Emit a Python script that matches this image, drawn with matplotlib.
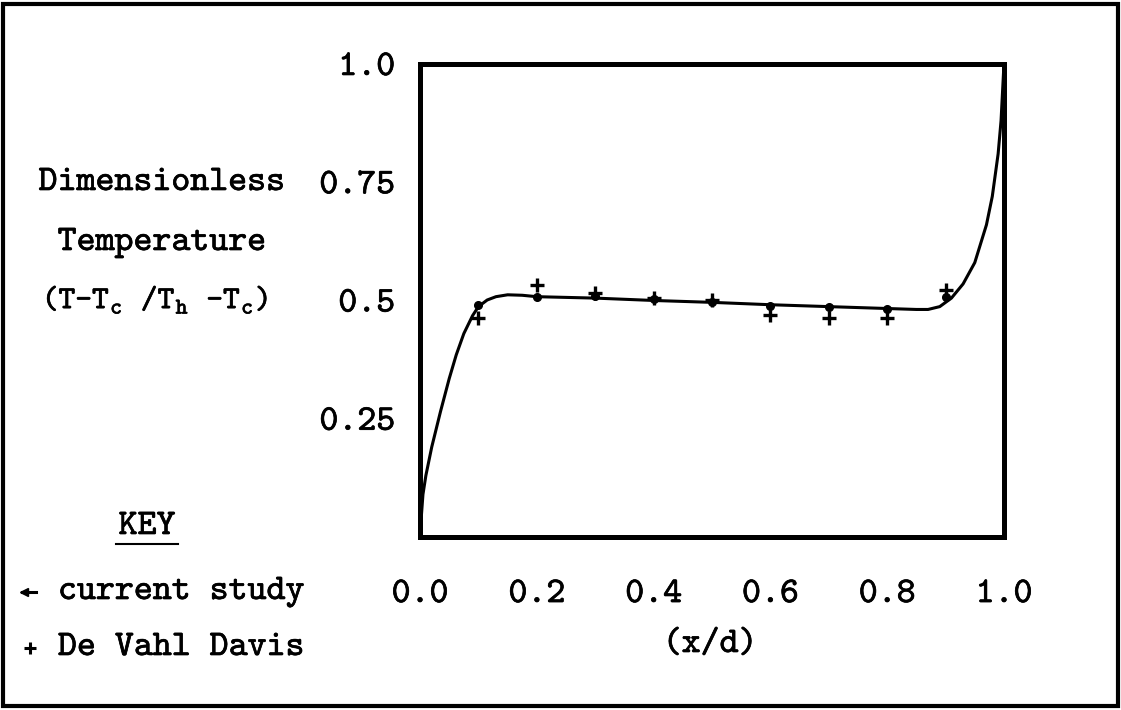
#!/usr/bin/env python3
# -*- coding: utf-8 -*-
"""
无量纲温度分布 (x/d) —— 本研究 vs De Vahl Davis
输出: out.png (1121x710)
"""

import matplotlib
matplotlib.use("Agg")
import matplotlib.pyplot as plt
import matplotlib.patheffects as pe
from matplotlib.lines import Line2D
from matplotlib.patches import Rectangle

# ── 数据 ─────────────────────────────────────────────────────────────────
curve_x = [0.0, 0.002, 0.005, 0.01, 0.02, 0.035, 0.05, 0.062, 0.075, 0.09,
           0.1, 0.115, 0.13, 0.15, 0.175, 0.2, 0.3, 0.4, 0.5, 0.6, 0.7,
           0.8, 0.85, 0.87, 0.89, 0.91, 0.93, 0.95, 0.97, 0.98, 0.99,
           0.995, 1.0]
curve_y = [0.0, 0.04, 0.09, 0.13, 0.19, 0.265, 0.335, 0.385, 0.43, 0.468,
           0.487, 0.501, 0.508, 0.512, 0.511, 0.508, 0.505, 0.500, 0.496,
           0.491, 0.487, 0.483, 0.481, 0.481, 0.487, 0.505, 0.535, 0.58,
           0.66, 0.72, 0.81, 0.88, 1.0]

pts_x   = [0.1, 0.2, 0.3, 0.4, 0.5, 0.6, 0.7, 0.8, 0.9]
current = [0.490, 0.507, 0.510, 0.503, 0.497, 0.488, 0.486, 0.482, 0.507]
davis   = [0.463, 0.533, 0.515, 0.505, 0.501, 0.469, 0.463, 0.463, 0.522]

xticks       = [0.0, 0.2, 0.4, 0.6, 0.8, 1.0]
xtick_labels = ["0.0", "0.2", "0.4", "0.6", "0.8", "1.0"]
yticks       = [0.25, 0.5, 0.75, 1.0]
ytick_labels = ["0.25", "0.5", "0.75", "1.0"]

# ── 字体：打字机风格 ────────────────────────────────────────────────────────────
plt.rcParams["font.family"] = ["cmtt10", "DejaVu Sans"]
plt.rcParams["mathtext.fontset"] = "custom"
plt.rcParams["mathtext.rm"] = "cmtt10"
plt.rcParams["mathtext.it"] = "cmtt10"
plt.rcParams["axes.unicode_minus"] = False
FS = 26
BOLD = [pe.withStroke(linewidth=0.5, foreground="black")]


def main():
    fig = plt.figure(figsize=(11.21, 7.10), dpi=100)
    ax = fig.add_axes([0.3747, 0.2437, 0.5209, 0.6662])

    ax.plot(curve_x, curve_y, color="black", lw=2.2,
            solid_joinstyle="round", zorder=3)
    ax.plot(pts_x, current, ls="none", marker="o", ms=5.5,
            color="black", zorder=4)
    ax.plot(pts_x, davis, ls="none", marker="+", ms=10, mew=2.4,
            color="black", zorder=4)

    ax.set_xlim(0, 1)
    ax.set_ylim(0, 1)
    ax.set_xticks(xticks)
    ax.set_xticklabels(xtick_labels)
    ax.set_yticks(yticks)
    ax.set_yticklabels(ytick_labels)
    ax.tick_params(length=0, labelsize=FS)
    ax.tick_params(axis="x", pad=31)
    ax.tick_params(axis="y", pad=18)
    for lbl in ax.get_xticklabels() + ax.get_yticklabels():
        lbl.set_path_effects(BOLD)
    for sp in ax.spines.values():
        sp.set_linewidth(3.6)

    # y 轴说明（三行）
    tx = dict(fontsize=FS, ha="center", va="center", path_effects=BOLD)
    fig.text(162 / 1121, 1 - 183 / 710, "Dimensionless", **tx)
    fig.text(162 / 1121, 1 - 243 / 710, "Temperature", **tx)
    fig.text(155 / 1121, 1 - 300 / 710,
             r"(T-T$_{c}$ /T$_{h}$ -T$_{c}$)",
             **{**tx, "fontsize": 23})

    # x 轴说明
    fig.text(710 / 1121, 1 - 645 / 710, "(x/d)", **tx)

    # 图例 KEY
    fig.text(147 / 1121, 1 - 527 / 710, "KEY", **tx)
    fig.add_artist(Line2D([116 / 1121, 178 / 1121],
                          [1 - 544 / 710, 1 - 544 / 710],
                          color="black", lw=1.5))
    fig.add_artist(Line2D([22 / 1121, 36 / 1121],
                          [1 - 592 / 710, 1 - 592 / 710],
                          color="black", lw=2.2))
    fig.add_artist(Line2D([24 / 1121], [1 - 592 / 710], ls="none",
                          marker="<", ms=6, color="black"))
    fig.add_artist(Line2D([30 / 1121], [1 - 648 / 710], ls="none",
                          marker="+", ms=9, mew=2.2, color="black"))
    lk = dict(fontsize=FS, ha="left", va="center", path_effects=BOLD)
    fig.text(58 / 1121, 1 - 592 / 710, "current study", **lk)
    fig.text(58 / 1121, 1 - 648 / 710, "De Vahl Davis", **lk)

    # 外框
    fig.add_artist(Rectangle((0.003, 0.005), 0.994, 0.99,
                             transform=fig.transFigure, fill=False,
                             lw=3, edgecolor="black"))

    fig.savefig("out.png", dpi=100, facecolor="white")
    plt.close(fig)


if __name__ == "__main__":
    main()
